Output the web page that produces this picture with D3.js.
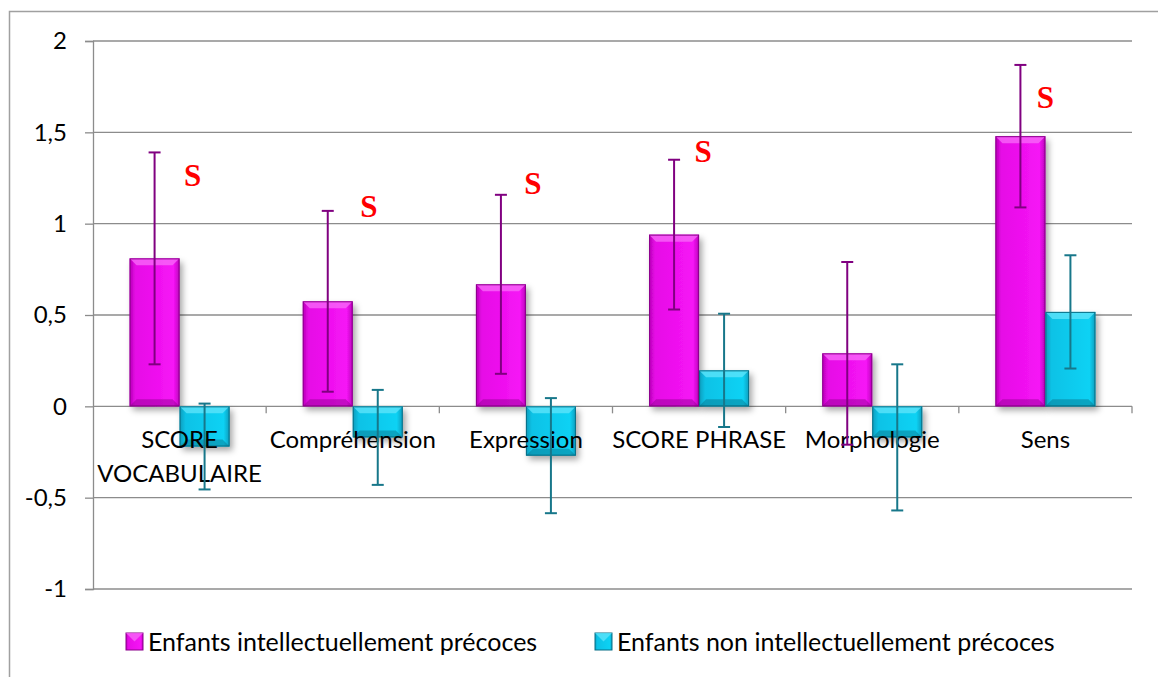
<!DOCTYPE html>
<html>
<head>
<meta charset="utf-8">
<script src="https://cdn.jsdelivr.net/npm/d3@7"></script>
<style>
  body { margin: 0; background: #fff; }
  svg { display: block; font-family: Lato, "Open Sans", sans-serif; }
</style>
</head>
<body>
<div id="chart"></div>
<script>
// categories and series
var categories = ['SCORE VOCABULAIRE', 'Compréhension', 'Expression', 'SCORE PHRASE', 'Morphologie', 'Sens'];
var seriesNames = ['Enfants intellectuellement précoces', 'Enfants non intellectuellement précoces'];
var precoces = [0.81, 0.575, 0.668, 0.94, 0.29, 1.479];
var precocesErr = [0.58, 0.495, 0.49, 0.41, 0.5, 0.39];
var nonPrecoces = [-0.22, -0.17, -0.27, 0.197, -0.17, 0.517];
var nonPrecocesErr = [0.235, 0.26, 0.315, 0.31, 0.4, 0.31];
var yTicks = [-1, -0.5, 0, 0.5, 1, 1.5, 2];
// significance markers "S" (category index, height in y units)
var sigCats = [0, 1, 2, 3, 5];
var sigValues = [1.205, 1.036, 1.162, 1.337, 1.633];

var W = 1158, H = 677;
var margin = { top: 41, left: 93, right: 26, bottom: 88 };
var plotW = W - margin.left - margin.right,
  plotH = H - margin.top - margin.bottom;

var svg = d3.select('#chart').append('svg').attr('width', W).attr('height', H);

var defs = svg.append('defs');
// bar gradients
function makeGrad(id, dark, mid, light) {
  var g = defs.append('linearGradient').attr('id', id)
    .attr('x1', 0).attr('x2', 1).attr('y1', 0).attr('y2', 0);
  g.append('stop').attr('offset', '0%').attr('stop-color', dark);
  g.append('stop').attr('offset', '12%').attr('stop-color', mid);
  g.append('stop').attr('offset', '88%').attr('stop-color', light);
  g.append('stop').attr('offset', '100%').attr('stop-color', dark);
}
makeGrad('gPink', '#b800b8', '#e60ce6', '#f614f6');
makeGrad('gCyan', '#0a9cbc', '#0cc2e6', '#0cd2f4');
var f = defs.append('filter').attr('id', 'shadow')
  .attr('x', '-20%').attr('y', '-20%').attr('width', '150%').attr('height', '150%');
f.append('feDropShadow').attr('dx', 3).attr('dy', 4).attr('stdDeviation', 3)
  .attr('flood-color', '#000').attr('flood-opacity', 0.35);

// outer frame
svg.append('rect').attr('x', 9.5).attr('y', 11.5).attr('width', W + 10).attr('height', H + 10)
  .attr('fill', 'none').attr('stroke', '#a0a0a0').attr('stroke-width', 1.5);

var g = svg.append('g').attr('transform', 'translate(' + margin.left + ',' + margin.top + ')');

var x0 = d3.scaleBand().domain(categories).range([0, plotW]);
var x1 = d3.scaleBand().domain([0, 1]).range([0, 100])
  .paddingInner(0).paddingOuter(0);
var y = d3.scaleLinear().domain([-1, 2]).range([plotH, 0]);

// gridlines
g.selectAll('.grid').data(yTicks).enter().append('line')
  .attr('x1', 0).attr('x2', plotW)
  .attr('y1', function (d) { return y(d); }).attr('y2', function (d) { return y(d); })
  .attr('stroke', '#8c8c8c').attr('stroke-width', 1.3);

// y axis
var yAxis = d3.axisLeft(y).tickValues(yTicks).tickSize(8).tickPadding(18)
  .tickFormat(function (d) { return String(d).replace('.', ','); });
var ya = g.append('g').call(yAxis);
ya.select('.domain').attr('stroke', '#8c8c8c').attr('stroke-width', 1.3);
ya.selectAll('.tick line').attr('stroke', '#8c8c8c').attr('stroke-width', 1.3);
ya.selectAll('.tick text').attr('font-size', 24).attr('fill', '#000')
  .attr('font-family', 'Lato, "Open Sans", sans-serif');

// x axis category separators at zero line
var sep = d3.range(categories.length + 1).map(function (i) { return i * x0.bandwidth(); });
g.selectAll('.sep').data(sep.slice(1)).enter().append('line')
  .attr('x1', function (d) { return d; }).attr('x2', function (d) { return d; })
  .attr('y1', y(0)).attr('y2', y(0) + 7)
  .attr('stroke', '#8c8c8c').attr('stroke-width', 1.3);

// bars
var series = [
  { vals: precoces, errs: precocesErr, fill: 'url(#gPink)', edge: '#8a008a', top: '#f866f8', err: '#800080' },
  { vals: nonPrecoces, errs: nonPrecocesErr, fill: 'url(#gCyan)', edge: '#086f86', top: '#5de4fa', err: '#17778a' }
];
var bw = x1.bandwidth();
var off = (x0.bandwidth() - 100) / 2;

series.forEach(function (s, si) {
  var grp = g.append('g');
  categories.forEach(function (c, i) {
    var v = s.vals[i];
    var bx = x0(c) + off + x1(si);
    var by = Math.min(y(v), y(0));
    var bh = Math.abs(y(v) - y(0));
    var b = grp.append('g');
    b.append('rect').attr('x', bx).attr('y', by).attr('width', bw).attr('height', bh)
      .attr('fill', s.fill).attr('filter', 'url(#shadow)');
    // bevel top
    var bev = Math.min(7, bh / 3);
    b.append('path')
      .attr('d', 'M' + bx + ',' + by + 'L' + (bx + bw) + ',' + by + 'L' + (bx + bw - bev) + ',' + (by + bev) +
        'L' + (bx + bev) + ',' + (by + bev) + 'Z')
      .attr('fill', s.top).attr('opacity', 0.8);
    // bevel bottom
    b.append('path')
      .attr('d', 'M' + bx + ',' + (by + bh) + 'L' + (bx + bw) + ',' + (by + bh) + 'L' + (bx + bw - bev) + ',' + (by + bh - bev) +
        'L' + (bx + bev) + ',' + (by + bh - bev) + 'Z')
      .attr('fill', s.edge).attr('opacity', 0.45);
    b.append('rect').attr('x', bx + 0.5).attr('y', by + 0.5).attr('width', bw - 1).attr('height', bh - 1)
      .attr('fill', 'none').attr('stroke', s.edge).attr('stroke-width', 1);
  });
});

// x category labels
categories.forEach(function (c) {
  var words = c === 'SCORE VOCABULAIRE' ? ['SCORE', 'VOCABULAIRE'] : [c];
  var t = g.append('text').attr('x', x0(c) + x0.bandwidth() / 2).attr('y', y(0) + 42)
    .attr('text-anchor', 'middle').attr('font-size', 24).attr('fill', '#000');
  words.forEach(function (w, k) {
    t.append('tspan').attr('x', x0(c) + x0.bandwidth() / 2).attr('dy', k === 0 ? 0 : 34).text(w);
  });
});

// error bars
series.forEach(function (s, si) {
  var eg = g.append('g').attr('stroke', s.err).attr('stroke-width', 2);
  categories.forEach(function (c, i) {
    var cx = x0(c) + off + x1(si) + bw / 2;
    var hi = y(s.vals[i] + s.errs[i]), lo = y(s.vals[i] - s.errs[i]);
    eg.append('line').attr('x1', cx).attr('x2', cx).attr('y1', hi).attr('y2', lo);
    eg.append('line').attr('x1', cx - 6).attr('x2', cx + 6).attr('y1', hi).attr('y2', hi);
    eg.append('line').attr('x1', cx - 6).attr('x2', cx + 6).attr('y1', lo).attr('y2', lo);
  });
});

// significance markers
var sigDx = [13, 16, 7, 4, 0];
sigCats.forEach(function (ci, k) {
  var c = categories[ci];
  g.append('text')
    .attr('x', x0(c) + x0.bandwidth() / 2 + sigDx[k])
    .attr('y', y(sigValues[k]))
    .attr('text-anchor', 'middle')
    .attr('font-family', '"Liberation Serif", "DejaVu Serif", serif')
    .attr('font-weight', 'bold').attr('font-size', 31).attr('fill', '#ff0000')
    .text('S');
});

// legend
var legX = [126, 595];
seriesNames.forEach(function (n, i) {
  var lg = svg.append('g').attr('transform', 'translate(' + legX[i] + ',633)');
  lg.append('rect').attr('width', 17).attr('height', 17).attr('fill', series[i].fill)
    .attr('stroke', series[i].edge).attr('stroke-width', 1);
  lg.append('path').attr('d', 'M0,0L17,0L8.5,8.5Z').attr('fill', series[i].top).attr('opacity', 0.8);
  lg.append('text').attr('x', 22).attr('y', 18).attr('font-size', 25).attr('fill', '#000').text(n);
});
</script>
</body>
</html>
